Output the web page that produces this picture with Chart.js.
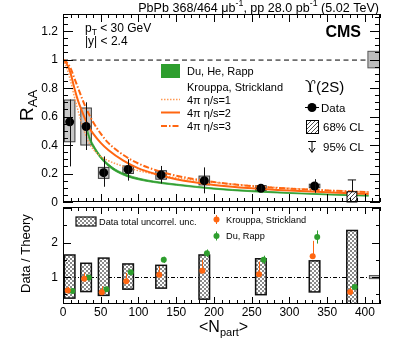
<!DOCTYPE html>
<html>
<head>
<meta charset="utf-8">
<script src="https://cdn.jsdelivr.net/npm/chart.js@4.4.1/dist/chart.umd.min.js"></script>
<style>
  html, body { margin: 0; padding: 0; background: #fff; }
  #wrap { position: relative; width: 399px; height: 347px; }
  #wrap canvas { position: absolute; left: 0; top: 0; }
</style>
</head>
<body>
<div id="wrap">
  <canvas id="lower" width="399" height="347"></canvas>
  <canvas id="upper" width="399" height="347"></canvas>
</div>
<script>
// ---- axes ----
const xMin = 0, xMax = 420;
const raaMin = 0, raaMax = 1.32;
const ratioMin = 0.22, ratioMax = 3.03;
const xTickLabels = ['0', '50', '100', '150', '200', '250', '300', '350', '400'];
const raaTickLabels = ['0', '0.2', '0.4', '0.6', '0.8', '1', '1.2'];
const ratioTickLabels = ['1', '2'];

// ---- data: Upsilon(2S) RAA vs Npart ----
const nPart  = [8.8, 30.6, 53.9, 86.3, 130.0, 187.2, 262.2, 333.3];
const raa    = [0.563, 0.53, 0.206, 0.229, 0.19, 0.15, 0.096, 0.112];
const statLo = [0.25, 0.365, 0.107, 0.15, 0.13, 0.061, 0.075, 0.065];
const statHi = [0.72, 0.70, 0.32, 0.30, 0.253, 0.243, 0.12, 0.16];
const systLo = [0.423, 0.40, 0.166, 0.20, 0.16, 0.12, 0.08, 0.10];
const systHi = [0.716, 0.66, 0.243, 0.253, 0.22, 0.182, 0.115, 0.125];
const limitNpart = 384.3;
const limit68 = 0.072;
const limit95 = 0.155;
const globalUnc = 0.058;

// ---- theory ----
const curveN = [0, 5, 10, 15, 20, 25, 30, 35, 40, 50, 60, 80, 100, 125, 150, 200, 250, 300, 350, 405];
const ksEta1 = [1.0, 0.94, 0.85, 0.74, 0.64, 0.55, 0.47, 0.41, 0.37, 0.32, 0.29, 0.25, 0.22, 0.192, 0.17, 0.138, 0.114, 0.096, 0.082, 0.07];
const ksEta2 = [1.0, 0.97, 0.905, 0.80, 0.71, 0.64, 0.575, 0.52, 0.48, 0.415, 0.365, 0.29, 0.236, 0.193, 0.16, 0.12, 0.096, 0.08, 0.068, 0.057];
const ksEta3 = [1.0, 0.98, 0.94, 0.87, 0.80, 0.73, 0.665, 0.61, 0.56, 0.48, 0.415, 0.33, 0.27, 0.22, 0.185, 0.14, 0.112, 0.094, 0.081, 0.069];
const rappN  = [32, 35, 40, 50, 60, 70, 85, 100, 120, 150, 200, 250, 300, 350, 405];
const rappHi = [0.515, 0.462, 0.405, 0.324, 0.268, 0.229, 0.192, 0.168, 0.147, 0.126, 0.098, 0.080, 0.066, 0.056, 0.047];
const rappLo = [0.488, 0.438, 0.383, 0.305, 0.251, 0.214, 0.178, 0.156, 0.137, 0.117, 0.090, 0.072, 0.060, 0.050, 0.041];

// ---- data / theory ----
const ratioN     = [8.8, 30.6, 53.9, 86.3, 130.0, 187.2, 262.2, 333.3, 383.0];
const ratioBoxLo = [0.39, 0.58, 0.47, 0.65, 0.68, 0.36, 0.49, 0.57, 0.10];
const ratioBoxHi = [1.64, 1.40, 1.55, 1.38, 1.34, 1.64, 1.53, 1.47, 2.35];
const krRatio    = [0.61, 0.95, 0.56, 0.88, 1.07, 1.18, 1.08, 1.60, 0.57];
const krHi       = [0.72, 1.12, 0.73, 1.12, 1.31, 1.50, 1.45, 2.05, 0.70];
const krLo       = [0.58, 0.92, 0.53, 0.85, 1.03, 1.14, 1.04, 1.55, 0.55];
const rappRatio  = [0.60, 0.99, 0.65, 1.14, 1.50, 1.69, 1.50, 2.16, 0.71];
const rappErr    = [0.03, 0.04, 0.04, 0.06, 0.09, 0.11, 0.12, 0.19, 0.04];

const FONT   = "'Liberation Sans', Arial, Helvetica, sans-serif";
const ORANGE = '#ff6611';
const ORANGE_LIGHT = '#ff9a55';
const GREEN  = '#2e9e2e';

const xy = (xs, ys, dx = 0) => xs.map((x, i) => ({ x: x + dx, y: ys[i] }));

const checker = (() => {
  const c = document.createElement('canvas');
  c.width = c.height = 4;
  const g = c.getContext('2d');
  g.fillStyle = '#fff'; g.fillRect(0, 0, 4, 4);
  g.fillStyle = '#8a8a8a'; g.fillRect(0, 0, 2, 2); g.fillRect(2, 2, 2, 2);
  return c;
})();
const hatch = (() => {
  const c = document.createElement('canvas');
  c.width = c.height = 4;
  const g = c.getContext('2d');
  g.fillStyle = '#fff'; g.fillRect(0, 0, 4, 4);
  g.strokeStyle = '#222'; g.lineWidth = 0.8;
  g.beginPath(); g.moveTo(0, 4); g.lineTo(4, 0); g.moveTo(-1, 1); g.lineTo(1, -1); g.moveTo(3, 5); g.lineTo(5, 3); g.stroke();
  return c;
})();

function seg(ctx, x1, y1, x2, y2) {
  ctx.beginPath(); ctx.moveTo(x1, y1); ctx.lineTo(x2, y2); ctx.stroke();
}

// text pieces: [text, size, dy, weight, family]
function rich(ctx, parts, x, y, align) {
  const fnt = p => `${p[3] || 'normal'} ${p[1]}px ${p[4] || FONT}`;
  let w = 0;
  parts.forEach(p => { ctx.font = fnt(p); w += ctx.measureText(p[0]).width; });
  let cx = align === 'right' ? x - w : align === 'center' ? x - w / 2 : x;
  ctx.textAlign = 'left';
  ctx.textBaseline = 'alphabetic';
  parts.forEach(p => {
    ctx.font = fnt(p);
    ctx.fillText(p[0], cx, y + (p[2] || 0));
    cx += ctx.measureText(p[0]).width;
  });
  return w;
}

function drawFrame(chart, t) {
  const { ctx, chartArea: a, scales: { x, y } } = chart;
  ctx.save();
  ctx.strokeStyle = '#000';
  ctx.lineWidth = 1;
  ctx.strokeRect(a.left + 0.5, a.top + 0.5, a.right - a.left - 1, a.bottom - a.top - 1);
  for (let i = 0; i * 10 <= xMax; i++) {
    const len = i % 5 === 0 ? t.xMajor : t.xMinor;
    const p = Math.round(x.getPixelForValue(i * 10)) + 0.5;
    seg(ctx, p, a.bottom, p, a.bottom - len);
    seg(ctx, p, a.top, p, a.top + len);
  }
  for (let i = 0; ; i++) {
    const v = t.yStart + i * t.yStep;
    if (v > y.max + 1e-9) break;
    if (v < y.min) continue;
    const major = i % t.yEvery === 0;
    const len = major ? t.yMajor : t.yMinor;
    const p = Math.round(y.getPixelForValue(v)) + 0.5;
    seg(ctx, a.left, p, a.left + len, p);
    seg(ctx, a.right, p, a.right - len, p);
  }
  ctx.fillStyle = '#000';
  ctx.font = `12px ${FONT}`;
  ctx.textAlign = 'right';
  ctx.textBaseline = 'middle';
  t.yLabels.forEach(l => ctx.fillText(l, a.left - 5, y.getPixelForValue(parseFloat(l)) + 0.5));
  ctx.restore();
}

const upperDecor = {
  id: 'upperDecor',
  beforeDatasetsDraw(chart) {
    const { ctx, chartArea: a, scales: { x, y } } = chart;
    ctx.save();
    ctx.beginPath(); ctx.rect(a.left, a.top, a.right - a.left, a.bottom - a.top); ctx.clip();
    // line at unity
    ctx.strokeStyle = '#000'; ctx.lineWidth = 1; ctx.setLineDash([5, 3.5]);
    seg(ctx, a.left, y.getPixelForValue(1) + 0.5, a.right, y.getPixelForValue(1) + 0.5);
    ctx.setLineDash([]);
    // systematic boxes
    nPart.forEach((n, i) => {
      const x1 = x.getPixelForValue(n - 7), x2 = x.getPixelForValue(n + 7);
      const y1 = y.getPixelForValue(systHi[i]), y2 = y.getPixelForValue(systLo[i]);
      ctx.fillStyle = '#c8c8c8'; ctx.fillRect(x1, y1, x2 - x1, y2 - y1);
      ctx.strokeStyle = '#3a3a3a'; ctx.strokeRect(x1, y1, x2 - x1, y2 - y1);
    });
    // global uncertainty
    const gx1 = x.getPixelForValue(404), gx2 = x.getPixelForValue(xMax);
    const gy1 = y.getPixelForValue(1 + globalUnc), gy2 = y.getPixelForValue(1 - globalUnc);
    ctx.fillStyle = '#bdbdbd'; ctx.fillRect(gx1, gy1, gx2 - gx1, gy2 - gy1);
    ctx.strokeStyle = '#555'; ctx.strokeRect(gx1, gy1, gx2 - gx1, gy2 - gy1);
    ctx.restore();
  },
  afterDatasetsDraw(chart) {
    const { ctx, scales: { x, y } } = chart;
    ctx.save();
    ctx.strokeStyle = '#111'; ctx.lineWidth = 1;
    nPart.forEach((n, i) => {
      const px = Math.round(x.getPixelForValue(n)) + 0.5;
      seg(ctx, px, y.getPixelForValue(statLo[i]), px, y.getPixelForValue(statHi[i]));
    });
    // upper limit at most central bin
    const lx = Math.round(x.getPixelForValue(limitNpart - 1.5)) + 0.5;
    const ly95 = y.getPixelForValue(limit95);
    seg(ctx, x.getPixelForValue(limitNpart - 7), ly95, x.getPixelForValue(limitNpart + 4), ly95);
    seg(ctx, lx, ly95, lx, y.getPixelForValue(limit68));
    const bx1 = x.getPixelForValue(limitNpart - 8), bx2 = x.getPixelForValue(limitNpart + 5);
    const by1 = y.getPixelForValue(limit68), by2 = y.getPixelForValue(0);
    ctx.fillStyle = ctx.createPattern(hatch, 'repeat');
    ctx.fillRect(bx1, by1, bx2 - bx1, by2 - by1);
    ctx.strokeStyle = '#000';
    ctx.strokeRect(bx1, by1, bx2 - bx1, by2 - by1);
    ctx.restore();
  },
  afterDraw(chart) {
    const { ctx } = chart;
    drawFrame(chart, { xMajor: 8, xMinor: 4, yStart: 0, yStep: 0.05, yEvery: 4, yMajor: 10, yMinor: 5, yLabels: raaTickLabels });
    ctx.save();
    ctx.fillStyle = '#000';
    // header, fitted to the frame width
    const head = s => [['PbPb 368/464 \u03bcb', s], ['-1', s * 0.7, -s * 0.4], [', pp 28.0 pb', s], ['-1', s * 0.7, -s * 0.4], [' (5.02 TeV)', s]];
    ctx.globalAlpha = 0;
    const w0 = rich(ctx, head(13), 0, 0);
    ctx.globalAlpha = 1;
    rich(ctx, head(13 * 241 / w0), 379, 11.5, 'right');
    rich(ctx, [['CMS', 16, 0, 'bold']], 361, 36.5, 'right');
    rich(ctx, [['p', 12], ['T', 8.5, 3], [' < 30 GeV', 12]], 85, 32);
    rich(ctx, [['|y| < 2.4', 12]], 85, 45);
    // y title
    ctx.save();
    ctx.translate(33, 121); ctx.rotate(-Math.PI / 2);
    rich(ctx, [['R', 19], ['AA', 13, 4]], 0, 0);
    ctx.restore();
    // legend (theory)
    ctx.fillStyle = GREEN; ctx.fillRect(161, 64, 19, 14);
    ctx.fillStyle = '#000';
    rich(ctx, [['Du, He, Rapp', 11]], 187, 74.5);
    rich(ctx, [['Krouppa, Strickland', 11]], 187, 90.5);
    rich(ctx, [['4\u03c0 \u03b7/s=1', 11]], 187, 103.5);
    rich(ctx, [['4\u03c0 \u03b7/s=2', 11]], 187, 116.5);
    rich(ctx, [['4\u03c0 \u03b7/s=3', 11]], 187, 130);
    ctx.strokeStyle = ORANGE_LIGHT; ctx.lineWidth = 1.5; ctx.setLineDash([1.5, 1.5]);
    seg(ctx, 161, 99.5, 180, 99.5);
    ctx.strokeStyle = ORANGE; ctx.lineWidth = 2; ctx.setLineDash([]);
    seg(ctx, 161, 112.5, 180, 112.5);
    ctx.setLineDash([6, 2, 1.5, 2]);
    seg(ctx, 161, 126, 180, 126);
    ctx.setLineDash([]);
    // legend (data)
    rich(ctx, [['\u03d2', 16, 0, 'normal', "'DejaVu Serif', serif"], ['(2S)', 15]], 305, 92);
    ctx.strokeStyle = '#000'; ctx.lineWidth = 1;
    seg(ctx, 305, 107.5, 319, 107.5);
    ctx.beginPath(); ctx.arc(312, 107.5, 4.5, 0, Math.PI * 2); ctx.fill();
    rich(ctx, [['Data', 11.5]], 321, 111.5);
    ctx.fillStyle = ctx.createPattern(hatch, 'repeat');
    ctx.fillRect(306, 120, 12, 13);
    ctx.strokeRect(306.5, 120.5, 12, 13);
    ctx.fillStyle = '#000';
    rich(ctx, [['68% CL', 11.5]], 323, 131);
    seg(ctx, 308, 141.5, 316, 141.5);
    seg(ctx, 312, 141.5, 312, 152);
    ctx.beginPath(); ctx.moveTo(309, 148); ctx.lineTo(312, 152.5); ctx.lineTo(315, 148); ctx.stroke();
    rich(ctx, [['95% CL', 11.5]], 323, 150.5);
    ctx.restore();
  }
};

const lowerDecor = {
  id: 'lowerDecor',
  beforeDatasetsDraw(chart) {
    const { ctx, chartArea: a, scales: { x, y } } = chart;
    ctx.save();
    ctx.beginPath(); ctx.rect(a.left, a.top, a.right - a.left, a.bottom - a.top); ctx.clip();
    ctx.strokeStyle = '#000'; ctx.lineWidth = 1; ctx.setLineDash([4, 2, 1, 2]);
    const p1 = Math.round(y.getPixelForValue(1)) + 0.5;
    seg(ctx, a.left, p1, a.right, p1);
    ctx.setLineDash([]);
    const pat = ctx.createPattern(checker, 'repeat');
    ratioN.forEach((n, i) => {
      const x1 = x.getPixelForValue(n - 7), x2 = x.getPixelForValue(n + 7);
      const y1 = y.getPixelForValue(ratioBoxHi[i]), y2 = y.getPixelForValue(ratioBoxLo[i]);
      ctx.fillStyle = pat; ctx.fillRect(x1, y1, x2 - x1, y2 - y1);
      ctx.lineWidth = 1.5; ctx.strokeStyle = '#111'; ctx.strokeRect(x1, y1, x2 - x1, y2 - y1);
    });
    const gx1 = x.getPixelForValue(406), gx2 = x.getPixelForValue(xMax);
    const gy1 = y.getPixelForValue(1.045), gy2 = y.getPixelForValue(0.955);
    ctx.fillStyle = '#bbb'; ctx.fillRect(gx1, gy1, gx2 - gx1, gy2 - gy1);
    ctx.lineWidth = 1; ctx.strokeStyle = '#555'; ctx.strokeRect(gx1, gy1, gx2 - gx1, gy2 - gy1);
    // error bars of the ratios
    ctx.lineWidth = 1;
    ratioN.forEach((n, i) => {
      const ox = Math.round(x.getPixelForValue(n - 2.5)) + 0.5;
      ctx.strokeStyle = ORANGE;
      seg(ctx, ox, y.getPixelForValue(krLo[i]), ox, y.getPixelForValue(krHi[i]));
      const gx = Math.round(x.getPixelForValue(n + 3.5)) + 0.5;
      ctx.strokeStyle = GREEN;
      seg(ctx, gx, y.getPixelForValue(rappRatio[i] - rappErr[i]), gx, y.getPixelForValue(rappRatio[i] + rappErr[i]));
    });
    ctx.restore();
  },
  afterDraw(chart) {
    const { ctx, scales: { x } } = chart;
    drawFrame(chart, { xMajor: 7, xMinor: 4, yStart: 0, yStep: 0.5, yEvery: 2, yMajor: 8, yMinor: 4, yLabels: ratioTickLabels });
    ctx.save();
    ctx.fillStyle = '#000';
    ctx.font = `12px ${FONT}`;
    ctx.textAlign = 'center';
    ctx.textBaseline = 'middle';
    xTickLabels.forEach(l => ctx.fillText(l, x.getPixelForValue(parseFloat(l)), 313));
    rich(ctx, [['<N', 16], ['part', 11, 4], ['>', 16]], 199, 332);
    ctx.save();
    ctx.translate(30, 293); ctx.rotate(-Math.PI / 2);
    rich(ctx, [['Data / Theory', 13]], 0, 0);
    ctx.restore();
    // legend
    ctx.fillStyle = ctx.createPattern(checker, 'repeat');
    ctx.fillRect(76, 217, 20, 9);
    ctx.strokeStyle = '#111'; ctx.lineWidth = 1.2;
    ctx.strokeRect(76, 217, 20, 9);
    ctx.fillStyle = '#000';
    rich(ctx, [['Data total uncorrel. unc.', 9.2]], 99, 225);
    ctx.lineWidth = 1;
    ctx.strokeStyle = ORANGE; seg(ctx, 216.5, 215, 216.5, 224);
    ctx.fillStyle = ORANGE; ctx.beginPath(); ctx.arc(216.5, 219.5, 3, 0, Math.PI * 2); ctx.fill();
    ctx.strokeStyle = GREEN; seg(ctx, 216.5, 231.5, 216.5, 240.5);
    ctx.fillStyle = GREEN; ctx.beginPath(); ctx.arc(216.5, 236, 3, 0, Math.PI * 2); ctx.fill();
    ctx.fillStyle = '#000';
    rich(ctx, [['Krouppa, Strickland', 9.2]], 226, 222.5);
    rich(ctx, [['Du, Rapp', 9.2]], 226, 239);
    ctx.restore();
  }
};

const baseOptions = (pad, yMin, yMax) => ({
  responsive: false,
  animation: false,
  devicePixelRatio: 1,
  events: [],
  layout: { padding: pad, autoPadding: false },
  scales: {
    x: { type: 'linear', min: xMin, max: xMax, display: false },
    y: { type: 'linear', min: yMin, max: yMax, display: false }
  },
  plugins: { legend: { display: false }, tooltip: { enabled: false } }
});

new Chart(document.getElementById('upper'), {
  type: 'line',
  data: {
    datasets: [
      { data: xy(nPart, raa), showLine: false, pointRadius: 4.5, pointBackgroundColor: '#000', pointBorderWidth: 0, order: 0 },
      { data: xy(curveN, ksEta3), borderColor: ORANGE, borderWidth: 2, borderDash: [6, 2, 1.5, 2], pointRadius: 0, cubicInterpolationMode: 'monotone', order: 1 },
      { data: xy(curveN, ksEta2), borderColor: ORANGE, borderWidth: 2, pointRadius: 0, cubicInterpolationMode: 'monotone', order: 2 },
      { data: xy(curveN, ksEta1), borderColor: ORANGE_LIGHT, borderWidth: 1.5, borderDash: [1.5, 1.5], pointRadius: 0, cubicInterpolationMode: 'monotone', order: 3 },
      { data: xy(rappN, rappLo), borderColor: GREEN, borderWidth: 0.8, pointRadius: 0, cubicInterpolationMode: 'monotone', fill: false, order: 5 },
      { data: xy(rappN, rappHi), borderColor: GREEN, borderWidth: 0.8, pointRadius: 0, cubicInterpolationMode: 'monotone', fill: '-1', backgroundColor: GREEN, order: 5 }
    ]
  },
  options: baseOptions({ left: 63, right: 19, top: 14, bottom: 145 }, raaMin, raaMax),
  plugins: [upperDecor]
});

new Chart(document.getElementById('lower'), {
  type: 'line',
  data: {
    datasets: [
      { data: xy(ratioN, krRatio, -2.5), showLine: false, pointRadius: 3, pointBackgroundColor: ORANGE, pointBorderWidth: 0 },
      { data: xy(ratioN, rappRatio, 3.5), showLine: false, pointRadius: 3, pointBackgroundColor: GREEN, pointBorderWidth: 0 }
    ]
  },
  options: baseOptions({ left: 63, right: 19, top: 207, bottom: 43 }, ratioMin, ratioMax),
  plugins: [lowerDecor]
});
</script>
</body>
</html>
